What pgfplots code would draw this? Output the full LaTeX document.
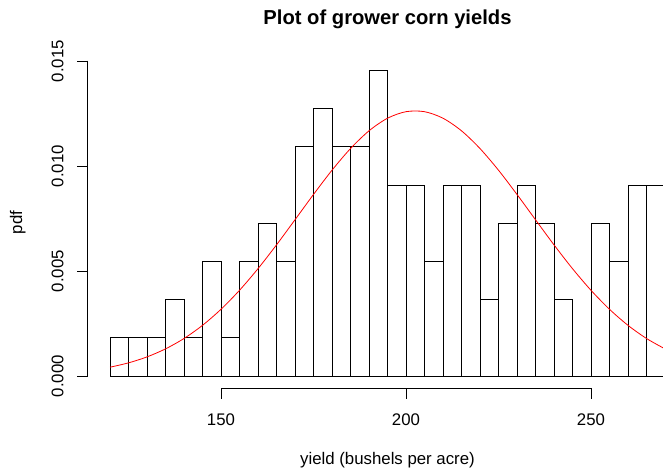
\documentclass[border=0pt]{standalone}
\usepackage{pgfplots}
\pgfplotsset{compat=1.18}
\usepackage{fontspec}
\setmainfont{Liberation Sans}
\begin{document}
\begin{tikzpicture}
\path[use as bounding box] (0,0) rectangle (663pt,470pt);
\begin{axis}[
  at={(87.8pt,81.8pt)}, anchor=south west,
  scale only axis, width=575.2pt, height=329.9pt,
  xmin=114, xmax=269.46, ymin=-0.000582, ymax=0.015127,
  hide axis,
]
\addplot[ybar interval, draw=black, fill=white, line width=0.9pt] coordinates {
(120,0.0018182) (125,0.0018182) (130,0.0018182) (135,0.0036364) (140,0.0018182)
(145,0.0054545) (150,0.0018182) (155,0.0054545) (160,0.0072727) (165,0.0054545)
(170,0.0109091) (175,0.0127273) (180,0.0109091) (185,0.0109091) (190,0.0145455)
(195,0.0090909) (200,0.0090909) (205,0.0054545) (210,0.0090909) (215,0.0090909)
(220,0.0036364) (225,0.0072727) (230,0.0090909) (235,0.0072727) (240,0.0036364)
(245,0) (250,0.0072727) (255,0.0054545) (260,0.0090909) (265,0.0090909) (270,0)
};
\addplot[red, line width=0.8pt, smooth] coordinates {
(120,0.000418) (125,0.000624) (130,0.000908) (135,0.001290)
(140,0.001785) (145,0.002411) (150,0.003176) (155,0.004079) (160,0.005110)
(165,0.006243) (170,0.007439) (175,0.008644) (180,0.009798) (185,0.010829)
(190,0.011674) (195,0.012273) (200,0.012585) (205,0.012585) (210,0.012273)
(215,0.011674) (220,0.010829) (225,0.009798) (230,0.008644) (235,0.007439)
(240,0.006243) (245,0.005110) (250,0.004079) (255,0.003176) (260,0.002411)
(265,0.001785) (270,0.001290)
};
\end{axis}
% axes drawn R-style
\begin{scope}[line width=0.9pt, line cap=rect]
\draw (221pt,81.8pt) -- (591pt,81.8pt);
\foreach \x in {221,406,591} \draw (\x pt,81.8pt) -- (\x pt,71.3pt);
\draw (87.8pt,94pt) -- (87.8pt,409pt);
\foreach \y in {94,199,304,409} \draw (87.8pt,\y pt) -- (77.3pt,\y pt);
\end{scope}
\begin{scope}[every node/.style={inner sep=0pt, font=\fontsize{16.8}{20}\selectfont}]
\node[anchor=base] at (221pt,44pt) {150};
\node[anchor=base] at (406pt,44pt) {200};
\node[anchor=base] at (591pt,44pt) {250};
\node[anchor=base, rotate=90] at (63.3pt,94pt) {0.000};
\node[anchor=base, rotate=90] at (63.3pt,199pt) {0.005};
\node[anchor=base, rotate=90] at (63.3pt,304pt) {0.010};
\node[anchor=base, rotate=90] at (63.3pt,409pt) {0.015};
\node[anchor=base, rotate=90] at (22pt,247.5pt) {pdf};
\node[anchor=base] at (387.5pt,5pt) {yield (bushels per acre)};
\node[anchor=base, font=\fontsize{20.2}{24}\selectfont\bfseries] at (387.5pt,445pt) {Plot of grower corn yields};
\end{scope}
\end{tikzpicture}
\end{document}
